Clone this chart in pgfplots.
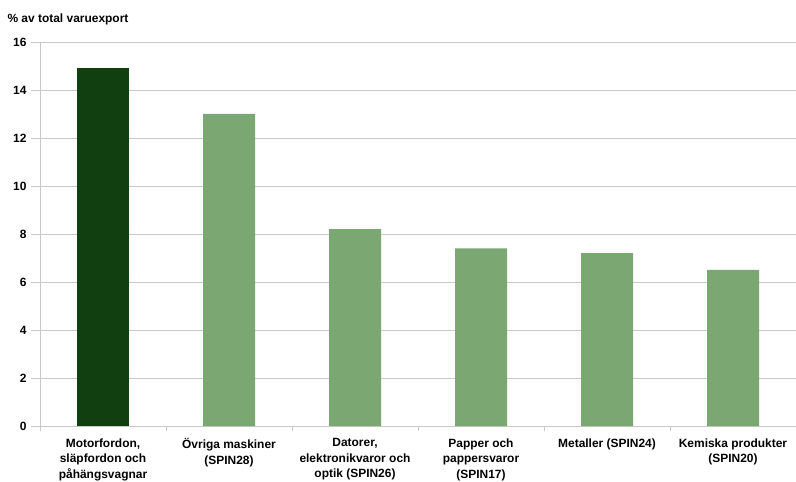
\documentclass[border=0pt]{standalone}
\usepackage{pgfplots}
\pgfplotsset{compat=1.18}
\usepackage{fontspec}
\setmainfont{Liberation Sans}
\definecolor{darkg}{HTML}{113F10}
\definecolor{lightg}{HTML}{7BA872}
\definecolor{gridg}{HTML}{C8C8C8}
\begin{document}
\begin{tikzpicture}
\begin{axis}[
  name=ax,
  scale only axis,
  width=756bp, height=384bp,
  xmin=-0.5, xmax=5.5,
  ymin=0, ymax=16,
  ytick={0,2,...,16},
  xtick={0,...,5},
  xticklabels={{Motorfordon,\\släpfordon och\\påhängsvagnar},{Övriga maskiner\\(SPIN28)},{Datorer,\\elektronikvaror och\\optik (SPIN26)},{Papper och\\pappersvaror\\(SPIN17)},{Metaller (SPIN24)},{Kemiska produkter\\(SPIN20)}},
  xticklabel style={align=center, font=\fontsize{12}{15.5}\selectfont\bfseries, yshift=0bp},
  yticklabel style={font=\fontsize{12}{14}\selectfont\bfseries, xshift=-1bp},
  /pgf/number format/assume math mode=true,
  major x tick style={draw=none},
  minor xtick={-0.5,0.5,...,5.5},
  minor x tick style={gridg, line width=0.8pt},
  minor tick length=5bp,
  major tick length=9bp,
  tick align=outside,
  ytick style={gridg, line width=0.8pt},
  ymajorgrids,
  grid style={gridg, line width=0.8pt},
  axis line style={gridg, line width=0.8pt},
  axis x line*=bottom,
  axis y line*=left,
  separate axis lines,
  clip=false,
]
\addplot[ybar, bar width=52bp, fill=darkg, draw=none] coordinates {(0,14.9)};
\addplot[ybar, bar width=52bp, fill=lightg, draw=none] coordinates {(1,13.0) (2,8.2) (3,7.4) (4,7.2) (5,6.5)};
\node[anchor=base west, font=\fontsize{12}{14}\selectfont\bfseries] at ([xshift=-36bp, yshift=19bp]rel axis cs:0,1) {\% av total varuexport};
\end{axis}
\pgfresetboundingbox
\path ([xshift=-40bp,yshift=42bp]ax.north west) rectangle ([yshift=-56bp]ax.south east);
\end{tikzpicture}
\end{document}
